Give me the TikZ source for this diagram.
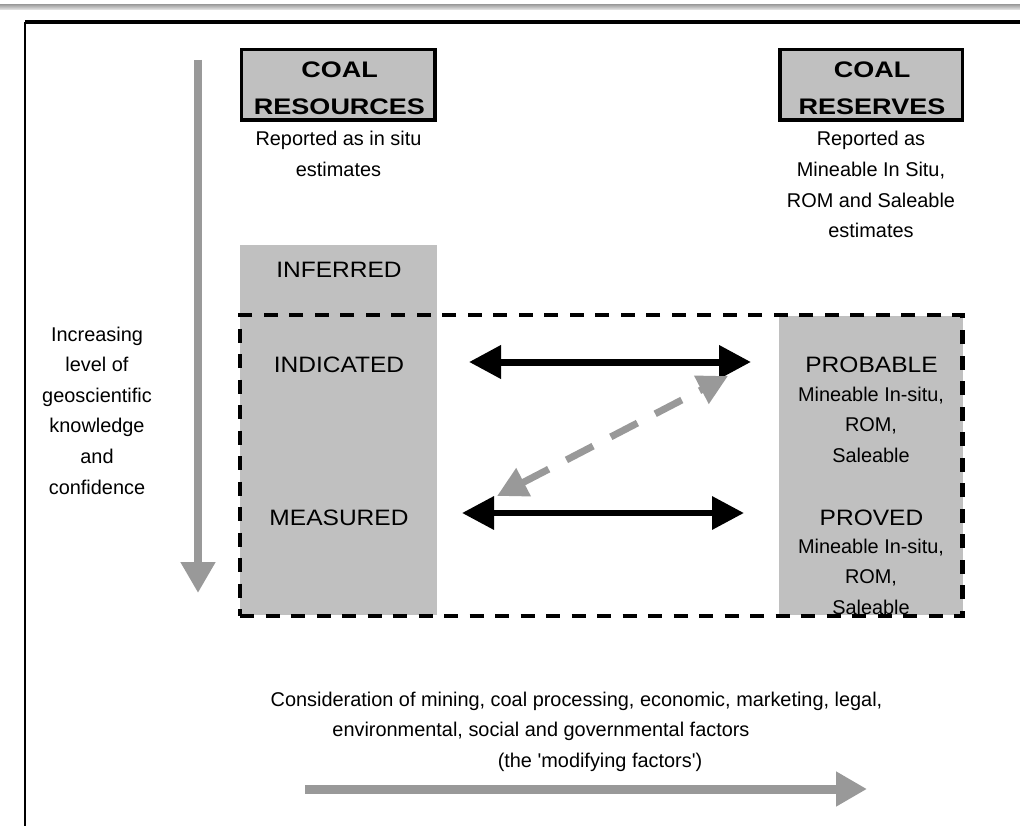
\documentclass[tikz,border=0pt]{standalone}
\usepackage{fontspec}
\setmainfont{Liberation Sans}
\newfontfamily\capsfont[FakeStretch=1.1]{Liberation Sans}
\newfontfamily\headfont[FakeStretch=1.2]{Liberation Sans}
\usetikzlibrary{arrows.meta}

\definecolor{panelgray}{HTML}{C0C0C0}
\definecolor{arrowgray}{HTML}{999999}

\newcommand\smalltext{\fontsize{19.9}{30.6}\selectfont}
\newcommand\capstext{\capsfont\fontsize{22.3}{30}\selectfont}
\newcommand\headtext{\headfont\bfseries\fontsize{22.5}{37}\selectfont}

\tikzset{
  txt/.style={font=\smalltext, align=center, anchor=north, inner sep=0pt, outer sep=0pt, yshift=21.42pt},
  head/.style={font=\headtext, align=center, anchor=north, inner sep=0pt, outer sep=0pt, yshift=25.9pt},
  caps/.style={font=\capstext, anchor=base, inner sep=0pt, outer sep=0pt},
  panel/.style={fill=panelgray, draw=none, inner sep=0pt, outer sep=0pt},
  headbox/.style={fill=panelgray, draw=black, line width=3.5pt, inner sep=0pt, outer sep=0pt},
  zone/.style={draw=black, line width=4.5pt, dash pattern=on 14pt off 11.5pt, inner sep=0pt, outer sep=0pt},
  blacklink/.style={draw=black, {Triangle[length=32pt,width=32pt]}-{Triangle[length=32pt,width=32pt]}},
  graylink/.style={draw=arrowgray, line width=7pt, dash pattern=on 30pt off 20pt,
    {Triangle[length=30pt,width=30pt]}-{Triangle[length=30pt,width=30pt]}},
  trend/.style={draw=arrowgray, -{Triangle[length=31pt,width=33pt]}},
}

\begin{document}
\begin{tikzpicture}[x=1pt, y=-1pt]
  \useasboundingbox (0,0) rectangle (1020,826);

  % page rule and frame
  \shade[top color=black!35, bottom color=black!8] (0,5) rectangle (1020,10);
  \draw[line width=3.5pt] (1020,22) -- (25,22);
  \draw[line width=2.5pt] (25,22) -- (25,826);

  % grey columns
  \node[panel, minimum width=197pt, minimum height=370pt] (rescol) at (338.5,430) {};
  \node[panel, minimum width=184pt, minimum height=299pt] (rsvcol) at (871,465.5) {};

  % dashed zone of convertible categories
  \node[zone, minimum width=722.5pt, minimum height=301pt] (zone) at (601.25,465.5) {};

  % heading boxes
  \node[headbox, minimum width=193.5pt, minimum height=70.5pt] (resbox) at (338.25,84.75) {};
  \node[headbox, minimum width=182.5pt, minimum height=70.5pt] (rsvbox) at (871,85) {};
  \node[head] (resT) at (339.5,78) {\strut COAL\\RESOURCES};
  \node[head] (rsvT) at (872,78) {\strut COAL\\RESERVES};

  \node[txt] (resNote) at (338.5,146) {\strut Reported as in situ\\estimates};
  \node[txt] (rsvNote) at (871,146) {\strut Reported as\\Mineable In Situ,\\ROM and Saleable\\estimates};

  % confidence axis
  \node[txt] (conf) at (97,341) {\strut Increasing\\level of\\geoscientific\\knowledge\\and\\confidence};
  \coordinate (confTop) at (198,60);
  \coordinate (confTip) at (198,593);
  \draw[trend, line width=8pt] (confTop) -- (confTip);

  % categories
  \node[caps] (inferred) at (339,278) {INFERRED};
  \node[caps] (indicated) at (339,372) {INDICATED};
  \node[caps] (measured) at (339,525) {MEASURED};
  \node[caps] (probable) at (871.5,372) {PROBABLE};
  \node[txt] (probSub) at (871,401) {\strut Mineable In-situ,\\ROM,\\Saleable};
  \node[caps] (proved) at (871.5,525) {PROVED};
  \node[txt] (provSub) at (871,553) {\strut Mineable In-situ,\\ROM,\\Saleable};

  % conversions between categories
  \coordinate (indE) at (469,362);
  \coordinate (probW) at (751,362);
  \coordinate (measE) at (462,513);
  \coordinate (provW) at (744,513);
  \coordinate (measNE) at (497,496);
  \coordinate (probSW) at (728,376);
  \draw[blacklink, line width=7pt] (indE) -- (probW);
  \draw[blacklink, line width=6.5pt] (measE) -- (provW);
  \draw[graylink] (measNE) -- (probSW);

  % modifying factors
  \node[txt] (mod1) at (576.5,706) {\strut Consideration of mining, coal processing, economic, marketing, legal,};
  \node[txt] (mod2) at (541,736) {\strut environmental, social and governmental factors};
  \node[txt] (mod3) at (600,767) {\strut (the \textquotesingle modifying factors\textquotesingle)};
  \coordinate (modW) at (305,789);
  \coordinate (modE) at (867,789);
  \draw[trend, line width=9pt] (modW) -- (modE);
\end{tikzpicture}
\end{document}
